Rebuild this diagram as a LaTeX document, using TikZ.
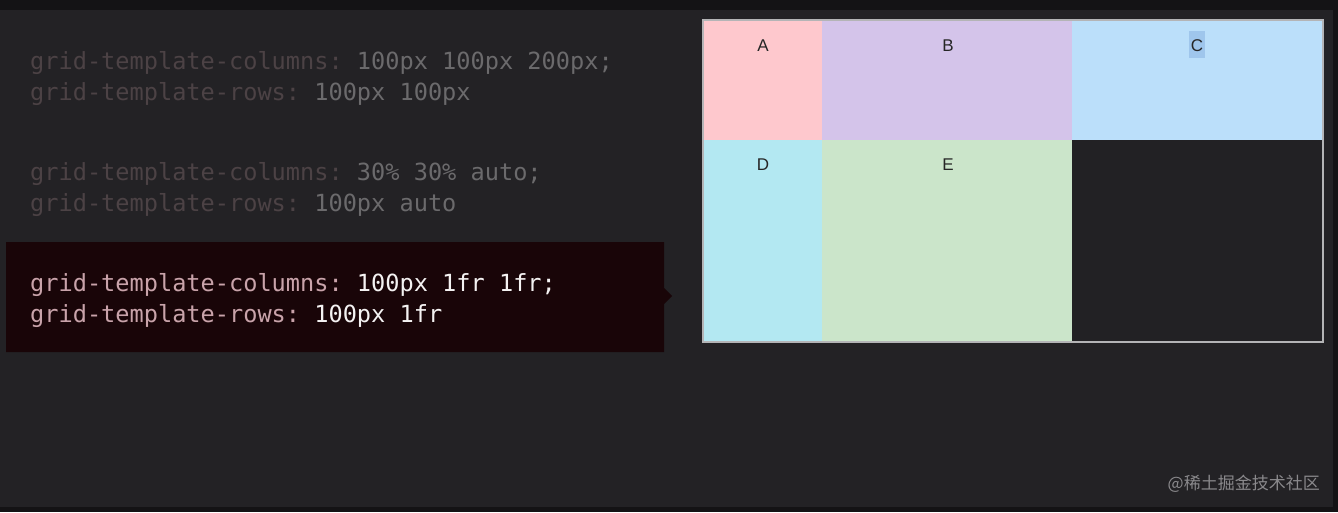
\documentclass[tikz,border=0pt]{standalone}
\usepackage{fontspec}
\setmonofont{DejaVu Sans Mono}
\setsansfont{Liberation Sans}
\newfontfamily\cjk{Noto Sans CJK SC}
\definecolor{bg}{HTML}{232225}
\definecolor{bgdark}{HTML}{141315}
\definecolor{dimprop}{HTML}{4C4245}
\definecolor{dimval}{HTML}{6B6A6C}
\definecolor{actprop}{HTML}{C9A3AA}
\definecolor{actval}{HTML}{F4F2F2}
\definecolor{actbox}{HTML}{190508}
\definecolor{cA}{HTML}{FEC8CD}
\definecolor{cB}{HTML}{D4C4EA}
\definecolor{cC}{HTML}{BBDFFA}
\definecolor{cD}{HTML}{B3E8F2}
\definecolor{cE}{HTML}{CBE5CA}
\definecolor{cEmpty}{HTML}{222124}
\definecolor{gridborder}{HTML}{B4B4B6}
\definecolor{selC}{HTML}{9FC6EC}
\definecolor{wm}{HTML}{8A898C}
\begin{document}
\begin{tikzpicture}[x=1pt,y=-1pt,
  code/.style={anchor=base west,inner sep=0pt,font=\ttfamily\fontsize{23.6}{31}\selectfont},
  lbl/.style={anchor=base,inner sep=0pt,font=\sffamily\fontsize{17}{19}\selectfont,text=black!85}]
\useasboundingbox (0,0) rectangle (1338,512);
\fill[bg] (0,0) rectangle (1338,512);
\fill[bgdark] (0,0) rectangle (1338,10);
\fill[bgdark] (1333,0) rectangle (1338,512);
\fill[bgdark] (0,507) rectangle (1338,512);
% code lines
\node[code] (l1) at (30,69) {\textcolor{dimprop}{grid-template-columns:} \textcolor{dimval}{100px 100px 200px;}};
\node[code] (l2) at (30,100) {\textcolor{dimprop}{grid-template-rows:} \textcolor{dimval}{100px 100px}};
\node[code] (l3) at (30,180) {\textcolor{dimprop}{grid-template-columns:} \textcolor{dimval}{30\% 30\% auto;}};
\node[code] (l4) at (30,211) {\textcolor{dimprop}{grid-template-rows:} \textcolor{dimval}{100px auto}};
% active box
\fill[actbox] (6,242) -- (664,242) -- (664,288) -- (672,296) -- (664,304) -- (664,352) -- (6,352) -- cycle;
\node[code] (l5) at (30,291) {\textcolor{actprop}{grid-template-columns:} \textcolor{actval}{100px 1fr 1fr;}};
\node[code] (l6) at (30,322) {\textcolor{actprop}{grid-template-rows:} \textcolor{actval}{100px 1fr}};
% grid
\fill[cA] (703,20) rectangle (822,140);
\fill[cB] (822,20) rectangle (1072,140);
\fill[cC] (1072,20) rectangle (1323,140);
\fill[cD] (703,140) rectangle (822,342);
\fill[cE] (822,140) rectangle (1072,342);
\fill[cEmpty] (1072,140) rectangle (1323,342);
\draw[gridborder,line width=1.5pt] (703,20) rectangle (1323,342);
\fill[selC] (1189,31) rectangle (1205,58);
\node[lbl] (A) at (763,51) {A};
\node[lbl] (B) at (948,51) {B};
\node[lbl] (C) at (1197,51) {C};
\node[lbl] (D) at (763,170) {D};
\node[lbl] (E) at (948,170) {E};
% watermark
\node[anchor=east,inner sep=0pt,text=wm,font=\cjk\fontsize{17}{20}\selectfont] (wm) at (1320,484) {@稀土掘金技术社区};
\end{tikzpicture}
\end{document}
